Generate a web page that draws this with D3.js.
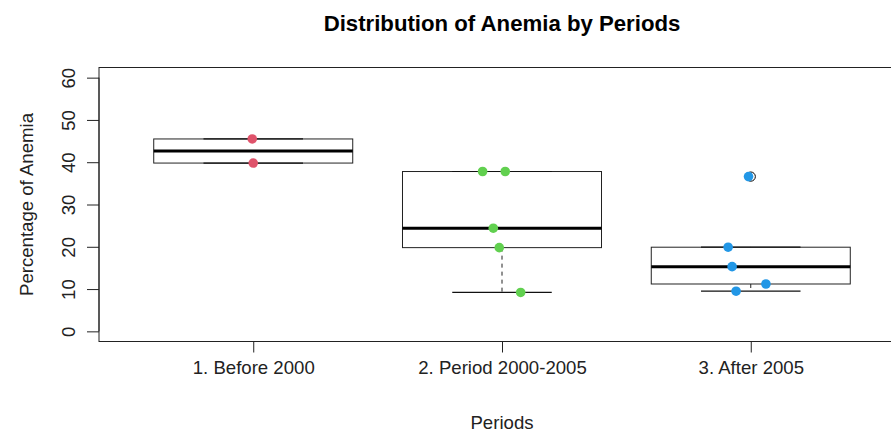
<!DOCTYPE html>
<html>
<head>
<meta charset="utf-8">
<script src="https://cdn.jsdelivr.net/npm/d3@7"></script>
<style>
  html, body { margin: 0; padding: 0; background: #fff; }
  svg { display: block; font-family: "Liberation Sans", Arial, Helvetica, sans-serif; }
</style>
</head>
<body>
<svg id="chart" width="891" height="432"></svg>
<script>
// ---- data ----
const categories = ["1. Before 2000", "2. Period 2000-2005", "3. After 2005"];
const valuesBefore2000 = [45.5, 39.8];
const valuesPeriod2000_2005 = [37.8, 37.8, 24.4, 19.8, 9.2];
const valuesAfter2005 = [36.6, 19.9, 15.3, 11.2, 9.5];
// horizontal jitter of each point, in category units
const jitterBefore2000 = [-0.004, 0.0];
const jitterPeriod2000_2005 = [-0.078, 0.013, -0.035, -0.011, 0.075];
const jitterAfter2005 = [-0.009, -0.091, -0.075, 0.061, -0.059];
const pointColors = ["#DF536B", "#61D04F", "#2297E6"];
const yTicks = [0, 10, 20, 30, 40, 50, 60];
const chartTitle = "Distribution of Anemia by Periods";
const xTitle = "Periods";
const yTitle = "Percentage of Anemia";

const groups = [
  { name: categories[0], values: valuesBefore2000, jitter: jitterBefore2000, color: pointColors[0] },
  { name: categories[1], values: valuesPeriod2000_2005, jitter: jitterPeriod2000_2005, color: pointColors[1] },
  { name: categories[2], values: valuesAfter2005, jitter: jitterAfter2005, color: pointColors[2] }
];

// ---- R-style boxplot statistics (Tukey five-number summary) ----
function fivenum(arr) {
  const x = arr.slice().sort((a, b) => a - b);
  const n = x.length;
  const n4 = Math.floor((n + 3) / 2) / 2;
  const d = [1, n4, (n + 1) / 2, n + 1 - n4, n];
  return d.map(v => 0.5 * (x[Math.floor(v) - 1] + x[Math.ceil(v) - 1]));
}
function boxStats(arr) {
  const f = fivenum(arr);
  const iqr = f[3] - f[1];
  const lo = f[1] - 1.5 * iqr, hi = f[3] + 1.5 * iqr;
  const inside = arr.filter(v => v >= lo && v <= hi);
  return {
    q1: f[1], med: f[2], q3: f[3],
    wlo: d3.min(inside), whi: d3.max(inside),
    out: arr.filter(v => v < lo || v > hi)
  };
}

// ---- layout ----
const svg = d3.select("#chart");
const plotL = 99, plotR = 905, plotT = 67.5, plotB = 341.5;
const x = d3.scaleLinear().domain([0.38, 3.62]).range([plotL, plotR]);
const y = d3.scaleLinear().domain([-2.4, 62.4]).range([plotB, plotT]);
const boxHalf = 0.4, capHalf = 0.2;
const axisFont = "18.6px";

// plot frame
svg.append("rect")
  .attr("x", plotL).attr("y", plotT)
  .attr("width", plotR - plotL).attr("height", plotB - plotT)
  .attr("fill", "none").attr("stroke", "#222").attr("stroke-width", 1);

// boxes
groups.forEach((g, i) => {
  const s = boxStats(g.values);
  const cx = i + 1;
  const G = svg.append("g");
  // whiskers (dashed)
  G.append("line").attr("x1", x(cx)).attr("x2", x(cx))
    .attr("y1", y(s.q1)).attr("y2", y(s.wlo))
    .attr("stroke", "#222").attr("stroke-dasharray", "4,4");
  G.append("line").attr("x1", x(cx)).attr("x2", x(cx))
    .attr("y1", y(s.q3)).attr("y2", y(s.whi))
    .attr("stroke", "#222").attr("stroke-dasharray", "4,4");
  // box
  G.append("rect")
    .attr("x", x(cx - boxHalf)).attr("y", y(s.q3))
    .attr("width", x(cx + boxHalf) - x(cx - boxHalf))
    .attr("height", y(s.q1) - y(s.q3))
    .attr("fill", "none").attr("stroke", "#222").attr("stroke-width", 1);
  // caps
  [s.wlo, s.whi].forEach(v => {
    G.append("line").attr("x1", x(cx - capHalf)).attr("x2", x(cx + capHalf))
      .attr("y1", y(v)).attr("y2", y(v))
      .attr("stroke", "#111").attr("stroke-width", 1.2);
  });
  // median
  G.append("line").attr("x1", x(cx - boxHalf)).attr("x2", x(cx + boxHalf))
    .attr("y1", y(s.med)).attr("y2", y(s.med))
    .attr("stroke", "#000").attr("stroke-width", 3);
  // outliers (open circles)
  s.out.forEach(v => {
    G.append("circle").attr("cx", x(cx)).attr("cy", y(v)).attr("r", 4.6)
      .attr("fill", "none").attr("stroke", "#000").attr("stroke-width", 1);
  });
});

// jittered points
groups.forEach((g, i) => {
  svg.append("g").selectAll("circle")
    .data(g.values.map((v, j) => ({ v, jx: g.jitter[j] })))
    .join("circle")
    .attr("cx", d => x(i + 1 + d.jx))
    .attr("cy", d => y(d.v))
    .attr("r", 4.8)
    .attr("fill", g.color);
});

// y axis
const yAxis = d3.axisLeft(y).tickValues(yTicks).tickSize(12).tickSizeOuter(0);
const ya = svg.append("g").attr("transform", `translate(${plotL},0)`).call(yAxis);
ya.select(".domain").attr("d", `M0,${y(0)}V${y(60)}`).attr("stroke", "#222");
ya.selectAll(".tick line").attr("stroke", "#222");
ya.selectAll(".tick text").remove();
ya.selectAll(".tick").append("text")
  .attr("transform", "translate(-24,0) rotate(-90)")
  .attr("text-anchor", "middle")
  .attr("fill", "#222")
  .style("font-size", axisFont)
  .text(d => d);

// x axis
const xAxis = d3.axisBottom(x).tickValues([1, 2, 3]).tickSize(11).tickSizeOuter(0)
  .tickFormat(d => categories[d - 1]);
const xa = svg.append("g").attr("transform", `translate(0,${plotB})`).call(xAxis);
xa.select(".domain").attr("d", `M${x(1)},0H${x(3)}`).attr("stroke", "#222");
xa.selectAll(".tick line").attr("stroke", "#222");
xa.selectAll(".tick text")
  .attr("y", 32.5).attr("dy", null)
  .attr("fill", "#222")
  .style("font-size", axisFont)
  .style("font-family", "'Liberation Sans', Arial, sans-serif");

// titles
const midX = (plotL + plotR) / 2;
svg.append("text").attr("x", midX).attr("y", 31)
  .attr("text-anchor", "middle").style("font-size", "22.2px").style("font-weight", "bold")
  .attr("fill", "#000").text(chartTitle);
svg.append("text").attr("x", midX).attr("y", 429)
  .attr("text-anchor", "middle").style("font-size", axisFont)
  .attr("fill", "#222").text(xTitle);
svg.append("text")
  .attr("transform", `translate(33,${(plotT + plotB) / 2}) rotate(-90)`)
  .attr("text-anchor", "middle").style("font-size", axisFont)
  .attr("fill", "#222").text(yTitle);
</script>
</body>
</html>
